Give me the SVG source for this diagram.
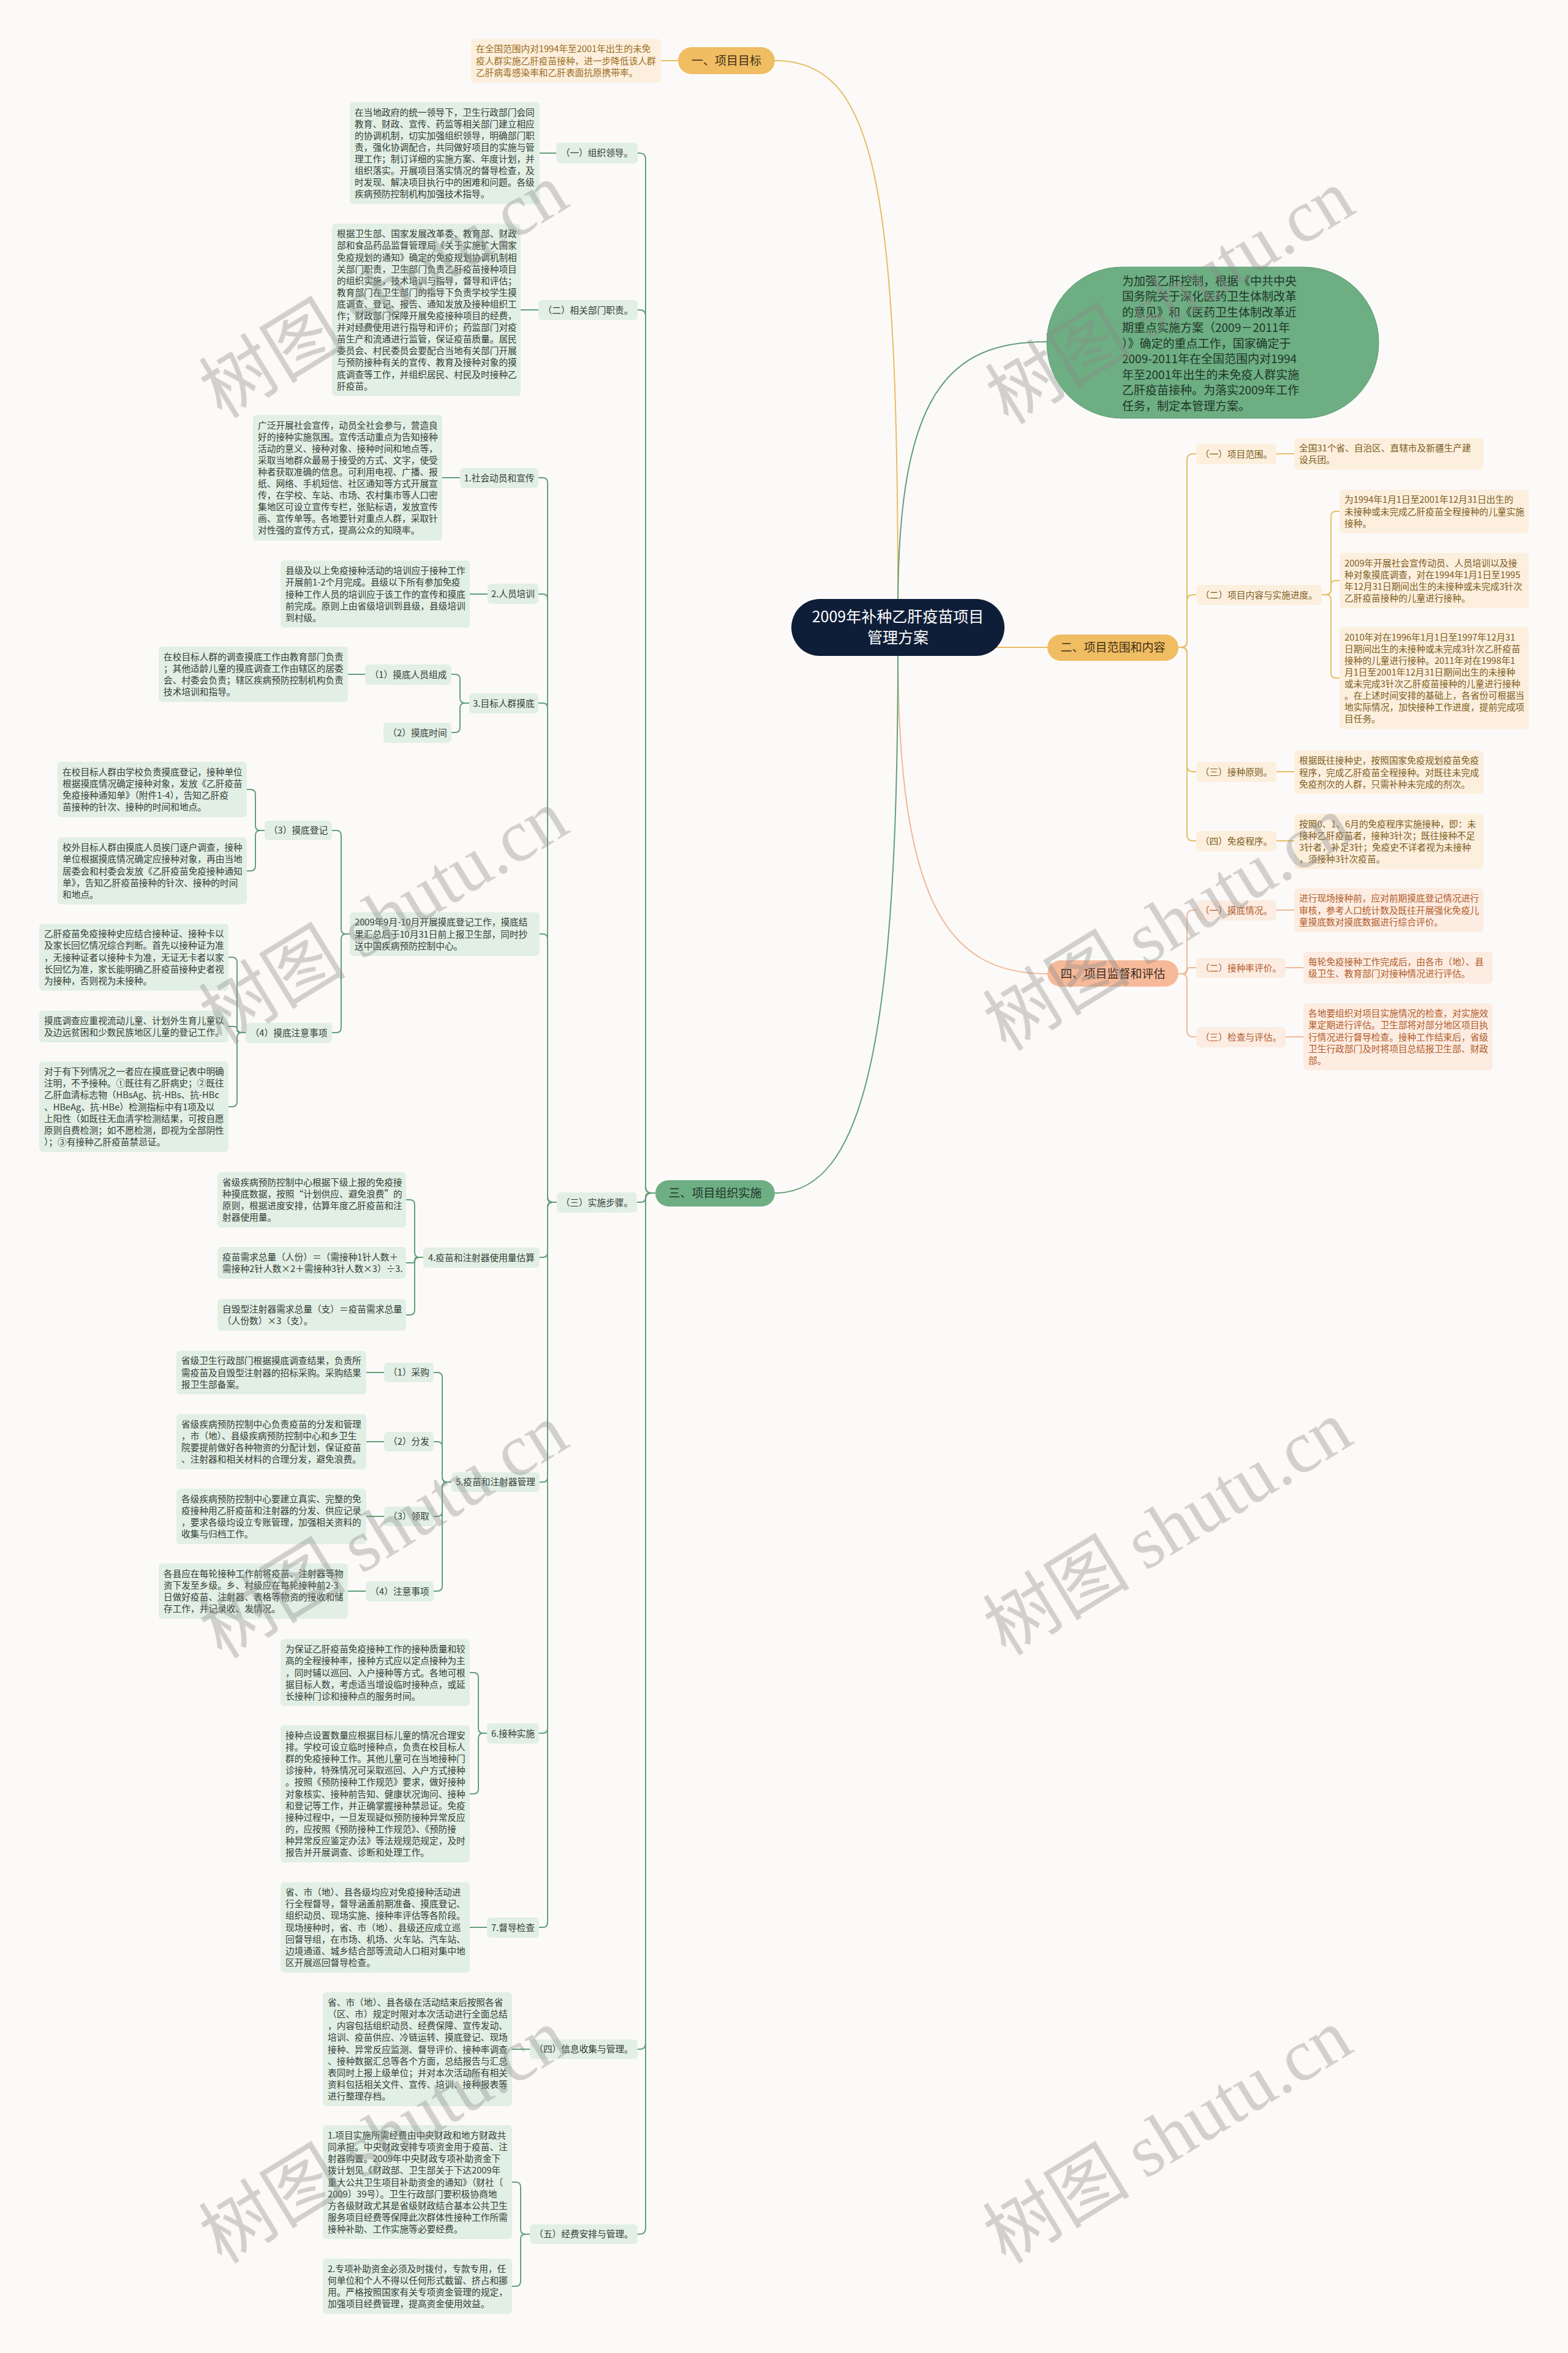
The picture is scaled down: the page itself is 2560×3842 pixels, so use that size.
<svg xmlns="http://www.w3.org/2000/svg" width="2560" height="3842" viewBox="0 0 2560 3842">
<style>
.t{font-family:"Noto Sans CJK SC","Liberation Sans",sans-serif;font-size:14.7px}
.tg{fill:#323d36}.ty{fill:#7d5c1e}.to{fill:#b25b2b}
.bg{fill:#e2efe5}.by{fill:#fcefdd}.bo{fill:#fcece1}
.c{text-anchor:middle}
.lg{fill:none;stroke:#62a07b;stroke-width:2}
.ly{fill:none;stroke:#e8bc66;stroke-width:2}
.lo{fill:none;stroke:#f2b898;stroke-width:2}
.big{font-family:"Noto Sans CJK SC","Liberation Sans",sans-serif;font-size:19px}
</style>
<rect x="0" y="0" width="2560" height="3842" fill="#fcfaf8"/>

<g id="connectors">
<path class="ly" d="M1466 990 C1466 300 1430 99 1265 99"/>
<path class="lg" d="M1466 990 C1466 640 1550 558 1709 558"/>
<path class="ly" d="M1600 1057 H1710"/>
<path class="lo" d="M1466 1060 C1466 1480 1550 1590 1710 1590"/>
<path class="lg" d="M1466 1060 C1466 1700 1410 1948 1265 1948"/>
<path class="ly" d="M1079 99 H1107"/>
<path class="lg" d="M1070 1948 H1064 Q1054 1948 1054 1938 V260 Q1054 250 1044 250 H1041"/>
<path class="lg" d="M1070 1948 H1064 Q1054 1948 1054 1938 V516 Q1054 506 1044 506 H1041"/>
<path class="lg" d="M1070 1948 H1061 Q1054 1948 1054 1955 Q1054 1963 1047 1963 H1040"/>
<path class="lg" d="M1070 1948 H1064 Q1054 1948 1054 1958 V3336 Q1054 3346 1044 3346 H1041"/>
<path class="lg" d="M1070 1948 H1064 Q1054 1948 1054 1958 V3638 Q1054 3648 1044 3648 H1041"/>
<path class="lg" d="M881 250 H908"/>
<path class="lg" d="M850 506 H879"/>
<path class="lg" d="M909 1963 H902 Q894 1963 894 1955 V788 Q894 780 886 780 H879"/>
<path class="lg" d="M909 1963 H902 Q894 1963 894 1955 V978 Q894 970 886 970 H879"/>
<path class="lg" d="M909 1963 H902 Q894 1963 894 1955 V1156 Q894 1148 886 1148 H879"/>
<path class="lg" d="M909 1963 H902 Q894 1963 894 1955 V1533 Q894 1525 886 1525 H881"/>
<path class="lg" d="M909 1963 H902 Q894 1963 894 1971 V2045 Q894 2053 886 2053 H881"/>
<path class="lg" d="M909 1963 H902 Q894 1963 894 1971 V2412 Q894 2420 886 2420 H881"/>
<path class="lg" d="M909 1963 H902 Q894 1963 894 1971 V2822 Q894 2830 886 2830 H880"/>
<path class="lg" d="M909 1963 H902 Q894 1963 894 1971 V3139 Q894 3147 886 3147 H880"/>
<path class="lg" d="M722 780 H751"/>
<path class="lg" d="M767 970 H796"/>
<path class="lg" d="M766 1148 H759 Q751 1148 751 1140 V1109 Q751 1101 743 1101 H737"/>
<path class="lg" d="M766 1148 H759 Q751 1148 751 1156 V1188 Q751 1196 743 1196 H737"/>
<path class="lg" d="M568 1101 H596"/>
<path class="lg" d="M571 1525 H565 Q557 1525 557 1517 V1364 Q557 1356 549 1356 H542"/>
<path class="lg" d="M571 1525 H565 Q557 1525 557 1533 V1678 Q557 1686 549 1686 H542"/>
<path class="lg" d="M432 1356 H425 Q417 1356 417 1348 V1297 Q417 1289 409 1289 H403"/>
<path class="lg" d="M432 1356 H425 Q417 1356 417 1364 V1414 Q417 1422 409 1422 H403"/>
<path class="lg" d="M401 1686 H395 Q387 1686 387 1678 V1571 Q387 1563 379 1563 H373"/>
<path class="lg" d="M401 1686 H392 Q387 1686 387 1681 Q387 1676 382 1676 H373"/>
<path class="lg" d="M401 1686 H395 Q387 1686 387 1694 V1799 Q387 1807 379 1807 H373"/>
<path class="lg" d="M691 2053 H685 Q677 2053 677 2045 V1967 Q677 1959 669 1959 H663"/>
<path class="lg" d="M691 2053 H681.5 Q677 2053 677 2057.5 Q677 2062 672.5 2062 H663"/>
<path class="lg" d="M691 2053 H685 Q677 2053 677 2061 V2139 Q677 2147 669 2147 H663"/>
<path class="lg" d="M737 2420 H730 Q722 2420 722 2412 V2249 Q722 2241 714 2241 H708"/>
<path class="lg" d="M737 2420 H730 Q722 2420 722 2412 V2362 Q722 2354 714 2354 H708"/>
<path class="lg" d="M737 2420 H730 Q722 2420 722 2428 V2468 Q722 2476 714 2476 H708"/>
<path class="lg" d="M737 2420 H730 Q722 2420 722 2428 V2590 Q722 2598 714 2598 H708"/>
<path class="lg" d="M598 2241 H627"/>
<path class="lg" d="M598 2354 H627"/>
<path class="lg" d="M598 2476 H627"/>
<path class="lg" d="M568 2598 H597"/>
<path class="lg" d="M795 2830 H789 Q781 2830 781 2822 V2739 Q781 2731 773 2731 H767"/>
<path class="lg" d="M795 2830 H789 Q781 2830 781 2838 V2921 Q781 2929 773 2929 H767"/>
<path class="lg" d="M795 3147 H767"/>
<path class="lg" d="M865 3346 H836"/>
<path class="lg" d="M865 3648 H858 Q850 3648 850 3640 V3571 Q850 3563 842 3563 H836"/>
<path class="lg" d="M865 3648 H858 Q850 3648 850 3656 V3725 Q850 3733 842 3733 H836"/>
<path class="ly" d="M1924 1057 H1928 Q1938 1057 1938 1047 V751 Q1938 741 1948 741 H1953"/>
<path class="ly" d="M1924 1057 H1928 Q1938 1057 1938 1047 V981 Q1938 971 1948 971 H1953"/>
<path class="ly" d="M1924 1057 H1928 Q1938 1057 1938 1067 V1250 Q1938 1260 1948 1260 H1953"/>
<path class="ly" d="M1924 1057 H1928 Q1938 1057 1938 1067 V1363 Q1938 1373 1948 1373 H1953"/>
<path class="ly" d="M2084 741 H2113"/>
<path class="ly" d="M2158 971 H2165 Q2173 971 2173 963 V843 Q2173 835 2181 835 H2187"/>
<path class="ly" d="M2158 971 H2165 Q2173 971 2173 963 V956 Q2173 948 2181 948 H2187"/>
<path class="ly" d="M2158 971 H2165 Q2173 971 2173 979 V1099 Q2173 1107 2181 1107 H2187"/>
<path class="ly" d="M2084 1260 H2113"/>
<path class="ly" d="M2084 1373 H2113"/>
<path class="lo" d="M1924 1590 H1928 Q1938 1590 1938 1580 V1496 Q1938 1486 1948 1486 H1953"/>
<path class="lo" d="M1924 1590 H1933 Q1938 1590 1938 1585 Q1938 1580 1943 1580 H1953"/>
<path class="lo" d="M1924 1590 H1928 Q1938 1590 1938 1600 V1683 Q1938 1693 1948 1693 H1953"/>
<path class="lo" d="M2084 1486 H2113"/>
<path class="lo" d="M2099 1580 H2128"/>
<path class="lo" d="M2099 1693 H2128"/>
</g>

<g id="root">
<rect x="1292" y="978" width="348" height="93" rx="46.5" fill="#0f1e38"/>
<text class="c" x="1466" y="1016" font-family="Noto Sans CJK SC, sans-serif" font-size="25" fill="#ffffff">2009年补种乙肝疫苗项目</text>
<text class="c" x="1466" y="1050" font-family="Noto Sans CJK SC, sans-serif" font-size="25" fill="#ffffff">管理方案</text>
</g>

<g id="intro">
<rect x="1709" y="436" width="542" height="247" rx="123" fill="#6dae83" stroke="#5f9d76" stroke-width="1"/>
<text class="big" x="1832" y="465.5" fill="#1f3527">
<tspan x="1832" dy="0">为加强乙肝控制，根据《中共中央</tspan>
<tspan x="1832" dy="25.5">国务院关于深化医药卫生体制改革</tspan>
<tspan x="1832" dy="25.5">的意见》和《医药卫生体制改革近</tspan>
<tspan x="1832" dy="25.5">期重点实施方案（2009－2011年</tspan>
<tspan x="1832" dy="25.5">）》确定的重点工作，国家确定于</tspan>
<tspan x="1832" dy="25.5">2009-2011年在全国范围内对1994</tspan>
<tspan x="1832" dy="25.5">年至2001年出生的未免疫人群实施</tspan>
<tspan x="1832" dy="25.5">乙肝疫苗接种。为落实2009年工作</tspan>
<tspan x="1832" dy="25.5">任务，制定本管理方案。</tspan>
</text>
</g>

<g id="b1">
<rect x="1107" y="77" width="158" height="44" rx="22" fill="#f0bd63"/>
<text class="big c" x="1186" y="105.5" fill="#3f2f16">一、项目目标</text>
</g>
<g id="b1-goal">
<rect class="by" x="769" y="63.4" width="310" height="71.3" rx="6"/>
<text class="t" x="777" y="85.4" fill="#9a6c22">
<tspan x="777" dy="0">在全国范围内对1994年至2001年出生的未免</tspan>
<tspan x="777" dy="19.1">疫人群实施乙肝疫苗接种，进一步降低该人群</tspan>
<tspan x="777" dy="19.1">乙肝病毒感染率和乙肝表面抗原携带率。</tspan>
</text>
</g>

<g id="b2">
<rect x="1710" y="1036" width="214" height="43" rx="21.5" fill="#f0bd63"/>
<text class="big c" x="1817" y="1063.5" fill="#3f2f16">二、项目范围和内容</text>
</g>
<g id="b2-1">
<rect class="by" x="1953" y="725" width="131" height="33" rx="6"/>
<text class="t ty c" x="2018.5" y="746.5">（一）项目范围。</text>
</g>
<g id="b2-1t">
<rect class="by" x="2113" y="714.9" width="309" height="52.2" rx="6"/>
<text class="t ty" x="2121" y="736.9">
<tspan x="2121" dy="0">全国31个省、自治区、直辖市及新疆生产建</tspan>
<tspan x="2121" dy="19.1">设兵团。</tspan>
</text>
</g>
<g id="b2-2">
<rect class="by" x="1953" y="955" width="205" height="33" rx="6"/>
<text class="t ty c" x="2055.5" y="976.5">（二）项目内容与实施进度。</text>
</g>
<g id="b2-2a">
<rect class="by" x="2187" y="799.4" width="309" height="71.3" rx="6"/>
<text class="t ty" x="2195" y="821.4">
<tspan x="2195" dy="0">为1994年1月1日至2001年12月31日出生的</tspan>
<tspan x="2195" dy="19.1">未接种或未完成乙肝疫苗全程接种的儿童实施</tspan>
<tspan x="2195" dy="19.1">接种。</tspan>
</text>
</g>
<g id="b2-2b">
<rect class="by" x="2187" y="902.8" width="309" height="90.4" rx="6"/>
<text class="t ty" x="2195" y="924.8">
<tspan x="2195" dy="0">2009年开展社会宣传动员、人员培训以及接</tspan>
<tspan x="2195" dy="19.1">种对象摸底调查，对在1994年1月1日至1995</tspan>
<tspan x="2195" dy="19.1">年12月31日期间出生的未接种或未完成3针次</tspan>
<tspan x="2195" dy="19.1">乙肝疫苗接种的儿童进行接种。</tspan>
</text>
</g>
<g id="b2-2c">
<rect class="by" x="2187" y="1023.6" width="309" height="166.8" rx="6"/>
<text class="t ty" x="2195" y="1045.6">
<tspan x="2195" dy="0">2010年对在1996年1月1日至1997年12月31</tspan>
<tspan x="2195" dy="19.1">日期间出生的未接种或未完成3针次乙肝疫苗</tspan>
<tspan x="2195" dy="19.1">接种的儿童进行接种。2011年对在1998年1</tspan>
<tspan x="2195" dy="19.1">月1日至2001年12月31日期间出生的未接种</tspan>
<tspan x="2195" dy="19.1">或未完成3针次乙肝疫苗接种的儿童进行接种</tspan>
<tspan x="2195" dy="19.1">。在上述时间安排的基础上，各省份可根据当</tspan>
<tspan x="2195" dy="19.1">地实际情况，加快接种工作进度，提前完成项</tspan>
<tspan x="2195" dy="19.1">目任务。</tspan>
</text>
</g>
<g id="b2-3">
<rect class="by" x="1953" y="1244" width="131" height="33" rx="6"/>
<text class="t ty c" x="2018.5" y="1265.5">（三）接种原则。</text>
</g>
<g id="b2-3t">
<rect class="by" x="2113" y="1225.4" width="309" height="71.3" rx="6"/>
<text class="t ty" x="2121" y="1247.4">
<tspan x="2121" dy="0">根据既往接种史，按照国家免疫规划疫苗免疫</tspan>
<tspan x="2121" dy="19.1">程序，完成乙肝疫苗全程接种。对既往未完成</tspan>
<tspan x="2121" dy="19.1">免疫剂次的人群，只需补种未完成的剂次。</tspan>
</text>
</g>
<g id="b2-4">
<rect class="by" x="1953" y="1357" width="131" height="33" rx="6"/>
<text class="t ty c" x="2018.5" y="1378.5">（四）免疫程序。</text>
</g>
<g id="b2-4t">
<rect class="by" x="2113" y="1328.8" width="309" height="90.4" rx="6"/>
<text class="t ty" x="2121" y="1350.8">
<tspan x="2121" dy="0">按照0、1、6月的免疫程序实施接种，即：未</tspan>
<tspan x="2121" dy="19.1">接种乙肝疫苗者，接种3针次；既往接种不足</tspan>
<tspan x="2121" dy="19.1">3针者，补足3针；免疫史不详者视为未接种</tspan>
<tspan x="2121" dy="19.1">，须接种3针次疫苗。</tspan>
</text>
</g>

<g id="b4">
<rect x="1710" y="1568" width="214" height="43" rx="21.5" fill="#f6ba9a"/>
<text class="big c" x="1817" y="1596.5" fill="#3d2a1f">四、项目监督和评估</text>
</g>
<g id="b4-1">
<rect class="bo" x="1953" y="1470" width="131" height="33" rx="6"/>
<text class="t to c" x="2018.5" y="1491.5">（一）摸底情况。</text>
</g>
<g id="b4-1t">
<rect class="bo" x="2113" y="1450.4" width="309" height="71.3" rx="6"/>
<text class="t to" x="2121" y="1472.4">
<tspan x="2121" dy="0">进行现场接种前，应对前期摸底登记情况进行</tspan>
<tspan x="2121" dy="19.1">审核，参考人口统计数及既往开展强化免疫儿</tspan>
<tspan x="2121" dy="19.1">童摸底数对摸底数据进行综合评价。</tspan>
</text>
</g>
<g id="b4-2">
<rect class="bo" x="1953" y="1564" width="146" height="33" rx="6"/>
<text class="t to c" x="2026" y="1585.5">（二）接种率评价。</text>
</g>
<g id="b4-2t">
<rect class="bo" x="2128" y="1553.9" width="309" height="52.2" rx="6"/>
<text class="t to" x="2136" y="1575.9">
<tspan x="2136" dy="0">每轮免疫接种工作完成后，由各市（地）、县</tspan>
<tspan x="2136" dy="19.1">级卫生、教育部门对接种情况进行评估。</tspan>
</text>
</g>
<g id="b4-3">
<rect class="bo" x="1953" y="1677" width="146" height="33" rx="6"/>
<text class="t to c" x="2026" y="1698.5">（三）检查与评估。</text>
</g>
<g id="b4-3t">
<rect class="bo" x="2128" y="1638.3" width="309" height="109.5" rx="6"/>
<text class="t to" x="2136" y="1660.3">
<tspan x="2136" dy="0">各地要组织对项目实施情况的检查，对实施效</tspan>
<tspan x="2136" dy="19.1">果定期进行评估。卫生部将对部分地区项目执</tspan>
<tspan x="2136" dy="19.1">行情况进行督导检查。接种工作结束后，省级</tspan>
<tspan x="2136" dy="19.1">卫生行政部门及时将项目总结报卫生部、财政</tspan>
<tspan x="2136" dy="19.1">部。</tspan>
</text>
</g>

<g id="b3">
<rect x="1070" y="1927" width="195" height="43" rx="21.5" fill="#6dae83"/>
<text class="big c" x="1167.5" y="1954.5" fill="#1f3226">三、项目组织实施</text>
</g>
<g id="b3-1">
<rect class="bg" x="908" y="233" width="133" height="34" rx="6"/>
<text class="t tg c" x="974.5" y="255">（一）组织领导。</text>
</g>
<g id="b3-1t">
<rect class="bg" x="571" y="166.6" width="310" height="166.8" rx="6"/>
<text class="t tg" x="579" y="188.6">
<tspan x="579" dy="0">在当地政府的统一领导下，卫生行政部门会同</tspan>
<tspan x="579" dy="19.1">教育、财政、宣传、药监等相关部门建立相应</tspan>
<tspan x="579" dy="19.1">的协调机制，切实加强组织领导，明确部门职</tspan>
<tspan x="579" dy="19.1">责，强化协调配合，共同做好项目的实施与管</tspan>
<tspan x="579" dy="19.1">理工作；制订详细的实施方案、年度计划，并</tspan>
<tspan x="579" dy="19.1">组织落实。开展项目落实情况的督导检查，及</tspan>
<tspan x="579" dy="19.1">时发现、解决项目执行中的困难和问题。各级</tspan>
<tspan x="579" dy="19.1">疾病预防控制机构加强技术指导。</tspan>
</text>
</g>
<g id="b3-2">
<rect class="bg" x="879" y="490" width="162" height="33" rx="6"/>
<text class="t tg c" x="960" y="511.5">（二）相关部门职责。</text>
</g>
<g id="b3-2t">
<rect class="bg" x="542" y="365.3" width="308" height="281.4" rx="6"/>
<text class="t tg" x="550" y="387.3">
<tspan x="550" dy="0">根据卫生部、国家发展改革委、教育部、财政</tspan>
<tspan x="550" dy="19.1">部和食品药品监督管理局《关于实施扩大国家</tspan>
<tspan x="550" dy="19.1">免疫规划的通知》确定的免疫规划协调机制相</tspan>
<tspan x="550" dy="19.1">关部门职责，卫生部门负责乙肝疫苗接种项目</tspan>
<tspan x="550" dy="19.1">的组织实施，技术培训与指导，督导和评估；</tspan>
<tspan x="550" dy="19.1">教育部门在卫生部门的指导下负责学校学生摸</tspan>
<tspan x="550" dy="19.1">底调查、登记、报告、通知发放及接种组织工</tspan>
<tspan x="550" dy="19.1">作；财政部门保障开展免疫接种项目的经费，</tspan>
<tspan x="550" dy="19.1">并对经费使用进行指导和评价；药监部门对疫</tspan>
<tspan x="550" dy="19.1">苗生产和流通进行监管，保证疫苗质量。居民</tspan>
<tspan x="550" dy="19.1">委员会、村民委员会要配合当地有关部门开展</tspan>
<tspan x="550" dy="19.1">与预防接种有关的宣传、教育及接种对象的摸</tspan>
<tspan x="550" dy="19.1">底调查等工作，并组织居民、村民及时接种乙</tspan>
<tspan x="550" dy="19.1">肝疫苗。</tspan>
</text>
</g>
<g id="b3-3">
<rect class="bg" x="909" y="1947" width="131" height="33" rx="6"/>
<text class="t tg c" x="974.5" y="1968.5">（三）实施步骤。</text>
</g>
<g id="s1">
<rect class="bg" x="751" y="764" width="128" height="33" rx="6"/>
<text class="t tg c" x="815" y="785.5">1.社会动员和宣传</text>
</g>
<g id="s1t">
<rect class="bg" x="413" y="677.5" width="309" height="205" rx="6"/>
<text class="t tg" x="421" y="699.5">
<tspan x="421" dy="0">广泛开展社会宣传，动员全社会参与，营造良</tspan>
<tspan x="421" dy="19.1">好的接种实施氛围。宣传活动重点为告知接种</tspan>
<tspan x="421" dy="19.1">活动的意义、接种对象、接种时间和地点等，</tspan>
<tspan x="421" dy="19.1">采取当地群众最易于接受的方式、文字，使受</tspan>
<tspan x="421" dy="19.1">种者获取准确的信息。可利用电视、广播、报</tspan>
<tspan x="421" dy="19.1">纸、网络、手机短信、社区通知等方式开展宣</tspan>
<tspan x="421" dy="19.1">传，在学校、车站、市场、农村集市等人口密</tspan>
<tspan x="421" dy="19.1">集地区可设立宣传专栏，张贴标语，发放宣传</tspan>
<tspan x="421" dy="19.1">画、宣传单等。各地要针对重点人群，采取针</tspan>
<tspan x="421" dy="19.1">对性强的宣传方式，提高公众的知晓率。</tspan>
</text>
</g>
<g id="s2">
<rect class="bg" x="796" y="953" width="83" height="33" rx="6"/>
<text class="t tg c" x="837.5" y="974.5">2.人员培训</text>
</g>
<g id="s2t">
<rect class="bg" x="458" y="915.3" width="309" height="109.5" rx="6"/>
<text class="t tg" x="466" y="937.3">
<tspan x="466" dy="0">县级及以上免疫接种活动的培训应于接种工作</tspan>
<tspan x="466" dy="19.1">开展前1-2个月完成。县级以下所有参加免疫</tspan>
<tspan x="466" dy="19.1">接种工作人员的培训应于该工作的宣传和摸底</tspan>
<tspan x="466" dy="19.1">前完成。原则上由省级培训到县级，县级培训</tspan>
<tspan x="466" dy="19.1">到村级。</tspan>
</text>
</g>
<g id="s3">
<rect class="bg" x="766" y="1132" width="113" height="33" rx="6"/>
<text class="t tg c" x="822.5" y="1153.5">3.目标人群摸底</text>
</g>
<g id="s3-1">
<rect class="bg" x="596" y="1085" width="141" height="33" rx="6"/>
<text class="t tg c" x="666.5" y="1106.5">（1）摸底人员组成</text>
</g>
<g id="s3-1t">
<rect class="bg" x="259" y="1055.8" width="309" height="90.4" rx="6"/>
<text class="t tg" x="267" y="1077.8">
<tspan x="267" dy="0">在校目标人群的调查摸底工作由教育部门负责</tspan>
<tspan x="267" dy="19.1">；其他适龄儿童的摸底调查工作由辖区的居委</tspan>
<tspan x="267" dy="19.1">会、村委会负责；辖区疾病预防控制机构负责</tspan>
<tspan x="267" dy="19.1">技术培训和指导。</tspan>
</text>
</g>
<g id="s3-2">
<rect class="bg" x="626" y="1180" width="111" height="33" rx="6"/>
<text class="t tg c" x="681.5" y="1201.5">（2）摸底时间</text>
</g>
<g id="s2009">
<rect class="bg" x="571" y="1489.4" width="310" height="71.3" rx="6"/>
<text class="t tg" x="579" y="1511.4">
<tspan x="579" dy="0">2009年9月-10月开展摸底登记工作，摸底结</tspan>
<tspan x="579" dy="19.1">果汇总后于10月31日前上报卫生部，同时抄</tspan>
<tspan x="579" dy="19.1">送中国疾病预防控制中心。</tspan>
</text>
</g>
<g id="s3-3">
<rect class="bg" x="432" y="1340" width="110" height="32" rx="6"/>
<text class="t tg c" x="487" y="1361">（3）摸底登记</text>
</g>
<g id="s3-3a">
<rect class="bg" x="94" y="1243.8" width="309" height="90.4" rx="6"/>
<text class="t tg" x="102" y="1265.8">
<tspan x="102" dy="0">在校目标人群由学校负责摸底登记，接种单位</tspan>
<tspan x="102" dy="19.1">根据摸底情况确定接种对象，发放《乙肝疫苗</tspan>
<tspan x="102" dy="19.1">免疫接种通知单》（附件1-4），告知乙肝疫</tspan>
<tspan x="102" dy="19.1">苗接种的针次、接种的时间和地点。</tspan>
</text>
</g>
<g id="s3-3b">
<rect class="bg" x="94" y="1367.3" width="309" height="109.5" rx="6"/>
<text class="t tg" x="102" y="1389.3">
<tspan x="102" dy="0">校外目标人群由摸底人员挨门逐户调查，接种</tspan>
<tspan x="102" dy="19.1">单位根据摸底情况确定应接种对象，再由当地</tspan>
<tspan x="102" dy="19.1">居委会和村委会发放《乙肝疫苗免疫接种通知</tspan>
<tspan x="102" dy="19.1">单》，告知乙肝疫苗接种的针次、接种的时间</tspan>
<tspan x="102" dy="19.1">和地点。</tspan>
</text>
</g>
<g id="s3-4">
<rect class="bg" x="401" y="1670" width="141" height="33" rx="6"/>
<text class="t tg c" x="471.5" y="1691.5">（4）摸底注意事项</text>
</g>
<g id="s3-4a">
<rect class="bg" x="64" y="1508.3" width="309" height="109.5" rx="6"/>
<text class="t tg" x="72" y="1530.3">
<tspan x="72" dy="0">乙肝疫苗免疫接种史应结合接种证、接种卡以</tspan>
<tspan x="72" dy="19.1">及家长回忆情况综合判断。首先以接种证为准</tspan>
<tspan x="72" dy="19.1">，无接种证者以接种卡为准，无证无卡者以家</tspan>
<tspan x="72" dy="19.1">长回忆为准，家长能明确乙肝疫苗接种史者视</tspan>
<tspan x="72" dy="19.1">为接种，否则视为未接种。</tspan>
</text>
</g>
<g id="s3-4b">
<rect class="bg" x="64" y="1649.9" width="309" height="52.2" rx="6"/>
<text class="t tg" x="72" y="1671.9">
<tspan x="72" dy="0">摸底调查应重视流动儿童、计划外生育儿童以</tspan>
<tspan x="72" dy="19.1">及边远贫困和少数民族地区儿童的登记工作。</tspan>
</text>
</g>
<g id="s3-4c">
<rect class="bg" x="64" y="1733.2" width="309" height="147.7" rx="6"/>
<text class="t tg" x="72" y="1755.2">
<tspan x="72" dy="0">对于有下列情况之一者应在摸底登记表中明确</tspan>
<tspan x="72" dy="19.1">注明，不予接种。①既往有乙肝病史；②既往</tspan>
<tspan x="72" dy="19.1">乙肝血清标志物（HBsAg、抗-HBs、抗-HBc</tspan>
<tspan x="72" dy="19.1">、HBeAg、抗-HBe）检测指标中有1项及以</tspan>
<tspan x="72" dy="19.1">上阳性（如既往无血清学检测结果，可按自愿</tspan>
<tspan x="72" dy="19.1">原则自费检测；如不愿检测，即视为全部阴性</tspan>
<tspan x="72" dy="19.1">）；③有接种乙肝疫苗禁忌证。</tspan>
</text>
</g>
<g id="s4">
<rect class="bg" x="691" y="2037" width="190" height="33" rx="6"/>
<text class="t tg c" x="786" y="2058.5">4.疫苗和注射器使用量估算</text>
</g>
<g id="s4a">
<rect class="bg" x="355" y="1913.8" width="308" height="90.4" rx="6"/>
<text class="t tg" x="363" y="1935.8">
<tspan x="363" dy="0">省级疾病预防控制中心根据下级上报的免疫接</tspan>
<tspan x="363" dy="19.1">种摸底数据，按照“计划供应、避免浪费”的</tspan>
<tspan x="363" dy="19.1">原则，根据进度安排，估算年度乙肝疫苗和注</tspan>
<tspan x="363" dy="19.1">射器使用量。</tspan>
</text>
</g>
<g id="s4b">
<rect class="bg" x="355" y="2035.9" width="308" height="52.2" rx="6"/>
<text class="t tg" x="363" y="2057.9">
<tspan x="363" dy="0">疫苗需求总量（人份）＝（需接种1针人数＋</tspan>
<tspan x="363" dy="19.1">需接种2针人数×2＋需接种3针人数×3）÷3.</tspan>
</text>
</g>
<g id="s4c">
<rect class="bg" x="355" y="2120.9" width="308" height="52.2" rx="6"/>
<text class="t tg" x="363" y="2142.9">
<tspan x="363" dy="0">自毁型注射器需求总量（支）＝疫苗需求总量</tspan>
<tspan x="363" dy="19.1">（人份数）×3（支）。</tspan>
</text>
</g>
<g id="s5">
<rect class="bg" x="737" y="2404" width="144" height="32" rx="6"/>
<text class="t tg c" x="809" y="2425">5.疫苗和注射器管理</text>
</g>
<g id="s5-1">
<rect class="bg" x="627" y="2225" width="81" height="32" rx="6"/>
<text class="t tg c" x="667.5" y="2246">（1）采购</text>
</g>
<g id="s5-1t">
<rect class="bg" x="288" y="2205.4" width="310" height="71.3" rx="6"/>
<text class="t tg" x="296" y="2227.4">
<tspan x="296" dy="0">省级卫生行政部门根据摸底调查结果，负责所</tspan>
<tspan x="296" dy="19.1">需疫苗及自毁型注射器的招标采购。采购结果</tspan>
<tspan x="296" dy="19.1">报卫生部备案。</tspan>
</text>
</g>
<g id="s5-2">
<rect class="bg" x="627" y="2338" width="81" height="32" rx="6"/>
<text class="t tg c" x="667.5" y="2359">（2）分发</text>
</g>
<g id="s5-2t">
<rect class="bg" x="288" y="2308.8" width="310" height="90.4" rx="6"/>
<text class="t tg" x="296" y="2330.8">
<tspan x="296" dy="0">省级疾病预防控制中心负责疫苗的分发和管理</tspan>
<tspan x="296" dy="19.1">，市（地）、县级疾病预防控制中心和乡卫生</tspan>
<tspan x="296" dy="19.1">院要提前做好各种物资的分配计划，保证疫苗</tspan>
<tspan x="296" dy="19.1">、注射器和相关材料的合理分发，避免浪费。</tspan>
</text>
</g>
<g id="s5-3">
<rect class="bg" x="627" y="2460" width="81" height="32" rx="6"/>
<text class="t tg c" x="667.5" y="2481">（3）领取</text>
</g>
<g id="s5-3t">
<rect class="bg" x="288" y="2430.8" width="310" height="90.4" rx="6"/>
<text class="t tg" x="296" y="2452.8">
<tspan x="296" dy="0">各级疾病预防控制中心要建立真实、完整的免</tspan>
<tspan x="296" dy="19.1">疫接种用乙肝疫苗和注射器的分发、供应记录</tspan>
<tspan x="296" dy="19.1">，要求各级均设立专账管理，加强相关资料的</tspan>
<tspan x="296" dy="19.1">收集与归档工作。</tspan>
</text>
</g>
<g id="s5-4">
<rect class="bg" x="597" y="2582" width="111" height="33" rx="6"/>
<text class="t tg c" x="652.5" y="2603.5">（4）注意事项</text>
</g>
<g id="s5-4t">
<rect class="bg" x="259" y="2552.8" width="309" height="90.4" rx="6"/>
<text class="t tg" x="267" y="2574.8">
<tspan x="267" dy="0">各县应在每轮接种工作前将疫苗、注射器等物</tspan>
<tspan x="267" dy="19.1">资下发至乡级。乡、村级应在每轮接种前2-3</tspan>
<tspan x="267" dy="19.1">日做好疫苗、注射器、表格等物资的接收和储</tspan>
<tspan x="267" dy="19.1">存工作，并记录收、发情况。</tspan>
</text>
</g>
<g id="s6">
<rect class="bg" x="795" y="2814" width="85" height="33" rx="6"/>
<text class="t tg c" x="837.5" y="2835.5">6.接种实施</text>
</g>
<g id="s6a">
<rect class="bg" x="458" y="2676.3" width="309" height="109.5" rx="6"/>
<text class="t tg" x="466" y="2698.3">
<tspan x="466" dy="0">为保证乙肝疫苗免疫接种工作的接种质量和较</tspan>
<tspan x="466" dy="19.1">高的全程接种率，接种方式应以定点接种为主</tspan>
<tspan x="466" dy="19.1">，同时辅以巡回、入户接种等方式。各地可根</tspan>
<tspan x="466" dy="19.1">据目标人数，考虑适当增设临时接种点，或延</tspan>
<tspan x="466" dy="19.1">长接种门诊和接种点的服务时间。</tspan>
</text>
</g>
<g id="s6b">
<rect class="bg" x="458" y="2817" width="309" height="224.1" rx="6"/>
<text class="t tg" x="466" y="2839">
<tspan x="466" dy="0">接种点设置数量应根据目标儿童的情况合理安</tspan>
<tspan x="466" dy="19.1">排。学校可设立临时接种点，负责在校目标人</tspan>
<tspan x="466" dy="19.1">群的免疫接种工作。其他儿童可在当地接种门</tspan>
<tspan x="466" dy="19.1">诊接种，特殊情况可采取巡回、入户方式接种</tspan>
<tspan x="466" dy="19.1">。按照《预防接种工作规范》要求，做好接种</tspan>
<tspan x="466" dy="19.1">对象核实、接种前告知、健康状况询问、接种</tspan>
<tspan x="466" dy="19.1">和登记等工作，并正确掌握接种禁忌证。免疫</tspan>
<tspan x="466" dy="19.1">接种过程中，一旦发现疑似预防接种异常反应</tspan>
<tspan x="466" dy="19.1">的，应按照《预防接种工作规范》、《预防接</tspan>
<tspan x="466" dy="19.1">种异常反应鉴定办法》等法规规范规定，及时</tspan>
<tspan x="466" dy="19.1">报告并开展调查、诊断和处理工作。</tspan>
</text>
</g>
<g id="s7">
<rect class="bg" x="795" y="3131" width="85" height="33" rx="6"/>
<text class="t tg c" x="837.5" y="3152.5">7.督导检查</text>
</g>
<g id="s7t">
<rect class="bg" x="458" y="3073.2" width="309" height="147.7" rx="6"/>
<text class="t tg" x="466" y="3095.2">
<tspan x="466" dy="0">省、市（地）、县各级均应对免疫接种活动进</tspan>
<tspan x="466" dy="19.1">行全程督导，督导涵盖前期准备、摸底登记、</tspan>
<tspan x="466" dy="19.1">组织动员、现场实施、接种率评估等各阶段。</tspan>
<tspan x="466" dy="19.1">现场接种时，省、市（地）、县级还应成立巡</tspan>
<tspan x="466" dy="19.1">回督导组，在市场、机场、火车站、汽车站、</tspan>
<tspan x="466" dy="19.1">边境通道、城乡结合部等流动人口相对集中地</tspan>
<tspan x="466" dy="19.1">区开展巡回督导检查。</tspan>
</text>
</g>
<g id="b3-4">
<rect class="bg" x="865" y="3330" width="176" height="32" rx="6"/>
<text class="t tg c" x="953" y="3351">（四）信息收集与管理。</text>
</g>
<g id="b3-4t">
<rect class="bg" x="527" y="3253.1" width="309" height="185.9" rx="6"/>
<text class="t tg" x="535" y="3275.1">
<tspan x="535" dy="0">省、市（地）、县各级在活动结束后按照各省</tspan>
<tspan x="535" dy="19.1">（区、市）规定时限对本次活动进行全面总结</tspan>
<tspan x="535" dy="19.1">，内容包括组织动员、经费保障、宣传发动、</tspan>
<tspan x="535" dy="19.1">培训、疫苗供应、冷链运转、摸底登记、现场</tspan>
<tspan x="535" dy="19.1">接种、异常反应监测、督导评价、接种率调查</tspan>
<tspan x="535" dy="19.1">、接种数据汇总等各个方面，总结报告与汇总</tspan>
<tspan x="535" dy="19.1">表同时上报上级单位；并对本次活动所有相关</tspan>
<tspan x="535" dy="19.1">资料包括相关文件、宣传、培训、接种报表等</tspan>
<tspan x="535" dy="19.1">进行整理存档。</tspan>
</text>
</g>
<g id="b3-5">
<rect class="bg" x="865" y="3632" width="176" height="32" rx="6"/>
<text class="t tg c" x="953" y="3653">（五）经费安排与管理。</text>
</g>
<g id="b3-5a">
<rect class="bg" x="527" y="3470.1" width="309" height="185.9" rx="6"/>
<text class="t tg" x="535" y="3492.1">
<tspan x="535" dy="0">1.项目实施所需经费由中央财政和地方财政共</tspan>
<tspan x="535" dy="19.1">同承担。中央财政安排专项资金用于疫苗、注</tspan>
<tspan x="535" dy="19.1">射器购置。2009年中央财政专项补助资金下</tspan>
<tspan x="535" dy="19.1">拨计划见《财政部、卫生部关于下达2009年</tspan>
<tspan x="535" dy="19.1">重大公共卫生项目补助资金的通知》（财社〔</tspan>
<tspan x="535" dy="19.1">2009〕39号）。卫生行政部门要积极协商地</tspan>
<tspan x="535" dy="19.1">方各级财政尤其是省级财政结合基本公共卫生</tspan>
<tspan x="535" dy="19.1">服务项目经费等保障此次群体性接种工作所需</tspan>
<tspan x="535" dy="19.1">接种补助、工作实施等必要经费。</tspan>
</text>
</g>
<g id="b3-5b">
<rect class="bg" x="527" y="3687.8" width="309" height="90.4" rx="6"/>
<text class="t tg" x="535" y="3709.8">
<tspan x="535" dy="0">2.专项补助资金必须及时拨付，专款专用，任</tspan>
<tspan x="535" dy="19.1">何单位和个人不得以任何形式截留、挤占和挪</tspan>
<tspan x="535" dy="19.1">用。严格按照国家有关专项资金管理的规定，</tspan>
<tspan x="535" dy="19.1">加强项目经费管理，提高资金使用效益。</tspan>
</text>
</g>

<g id="watermark" fill="#8a8a8a" opacity="0.38" font-size="120" text-anchor="middle">
<text transform="translate(648,510) rotate(-31.5)"><tspan font-family="Noto Sans CJK SC, sans-serif">树图 </tspan><tspan font-family="Liberation Serif, serif">shutu.cn</tspan></text>
<text transform="translate(1932,520) rotate(-31.5)"><tspan font-family="Noto Sans CJK SC, sans-serif">树图 </tspan><tspan font-family="Liberation Serif, serif">shutu.cn</tspan></text>
<text transform="translate(648,1532) rotate(-31.5)"><tspan font-family="Noto Sans CJK SC, sans-serif">树图 </tspan><tspan font-family="Liberation Serif, serif">shutu.cn</tspan></text>
<text transform="translate(1928,1543) rotate(-31.5)"><tspan font-family="Noto Sans CJK SC, sans-serif">树图 </tspan><tspan font-family="Liberation Serif, serif">shutu.cn</tspan></text>
<text transform="translate(648,2535) rotate(-31.5)"><tspan font-family="Noto Sans CJK SC, sans-serif">树图 </tspan><tspan font-family="Liberation Serif, serif">shutu.cn</tspan></text>
<text transform="translate(1928,2530) rotate(-31.5)"><tspan font-family="Noto Sans CJK SC, sans-serif">树图 </tspan><tspan font-family="Liberation Serif, serif">shutu.cn</tspan></text>
<text transform="translate(648,3523) rotate(-31.5)"><tspan font-family="Noto Sans CJK SC, sans-serif">树图 </tspan><tspan font-family="Liberation Serif, serif">shutu.cn</tspan></text>
<text transform="translate(1928,3523) rotate(-31.5)"><tspan font-family="Noto Sans CJK SC, sans-serif">树图 </tspan><tspan font-family="Liberation Serif, serif">shutu.cn</tspan></text>
</g>
</svg>
